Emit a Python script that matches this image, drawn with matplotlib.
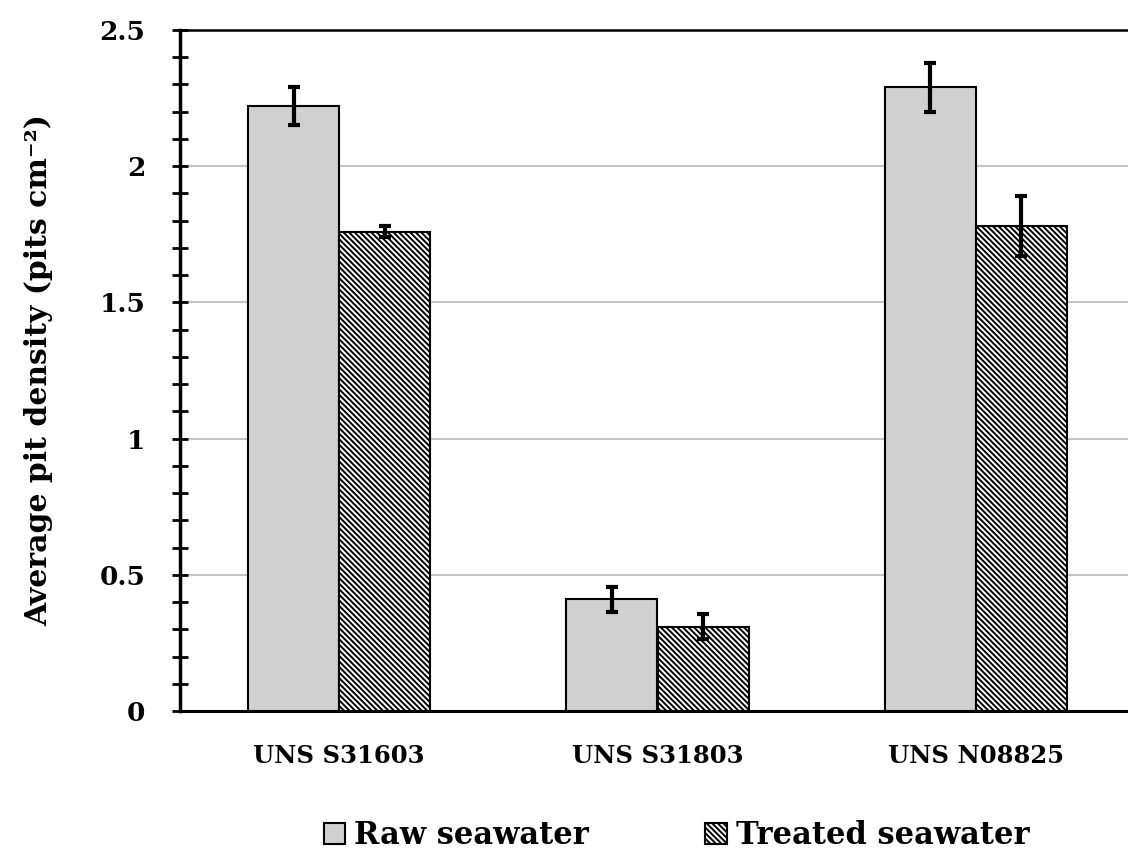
import matplotlib.pyplot as plt
import numpy as np

# 数据
categories = ['UNS S31603', 'UNS S31803', 'UNS N08825']
raw_vals = [2.22, 0.41, 2.29]
raw_err = [0.07, 0.045, 0.09]
treated_vals = [1.76, 0.31, 1.78]
treated_err = [0.02, 0.045, 0.11]
series_names = ['Raw seawater', 'Treated seawater']

plt.rcParams['font.family'] = ['DejaVu Serif']
plt.rcParams['font.weight'] = 'bold'
plt.rcParams['hatch.linewidth'] = 1.4

fig = plt.figure(figsize=(11.28, 8.5), dpi=100)
ax = fig.add_axes([180 / 1128, 139 / 850, 955 / 1128, 681 / 850])

x = np.arange(len(categories))
w = 0.286
err_kw = dict(elinewidth=3, capsize=4, capthick=3, ecolor='black')

ax.bar(x - w / 2, raw_vals, w, yerr=raw_err, color='#d0d0d0', edgecolor='black',
       linewidth=1.5, error_kw=err_kw, label=series_names[0], zorder=3)
ax.bar(x + w / 2, treated_vals, w, yerr=treated_err, color='white', edgecolor='black',
       hatch='\\\\\\\\\\\\', linewidth=1.5, error_kw=err_kw, label=series_names[1], zorder=3)

ax.set_xlim(-0.5, 2.5)
ax.set_ylim(0, 2.5)
ax.set_yticks([0, 0.5, 1, 1.5, 2, 2.5])
ax.set_yticklabels(['0', '0.5', '1', '1.5', '2', '2.5'])
ax.set_yticks(np.arange(0, 2.5, 0.1), minor=True)
ax.set_xticks(x)
ax.set_xticklabels(categories)

ax.grid(axis='y', color='#c4c4c4', linewidth=1.5, zorder=0)
ax.set_axisbelow(True)

ax.spines['right'].set_visible(False)
ax.spines['left'].set_linewidth(2.5)
ax.spines['bottom'].set_linewidth(2.2)
ax.spines['top'].set_linewidth(1.8)

ax.tick_params(axis='y', which='major', direction='inout', length=12, width=2,
               labelsize=19, pad=19)
ax.tick_params(axis='y', which='minor', direction='inout', length=12, width=2)
ax.tick_params(axis='x', length=0, labelsize=17.5, pad=24)

ax.set_ylabel('Average pit density (pits cm⁻²)', fontsize=21.5,
              fontweight='bold', labelpad=33)

ax.legend(loc='upper center', bbox_to_anchor=(0.52, -0.12), ncol=2, frameon=False,
          fontsize=22, handlelength=0.7, handleheight=0.7, handletextpad=0.3,
          columnspacing=3.8)

plt.savefig('out.png', dpi=100)
